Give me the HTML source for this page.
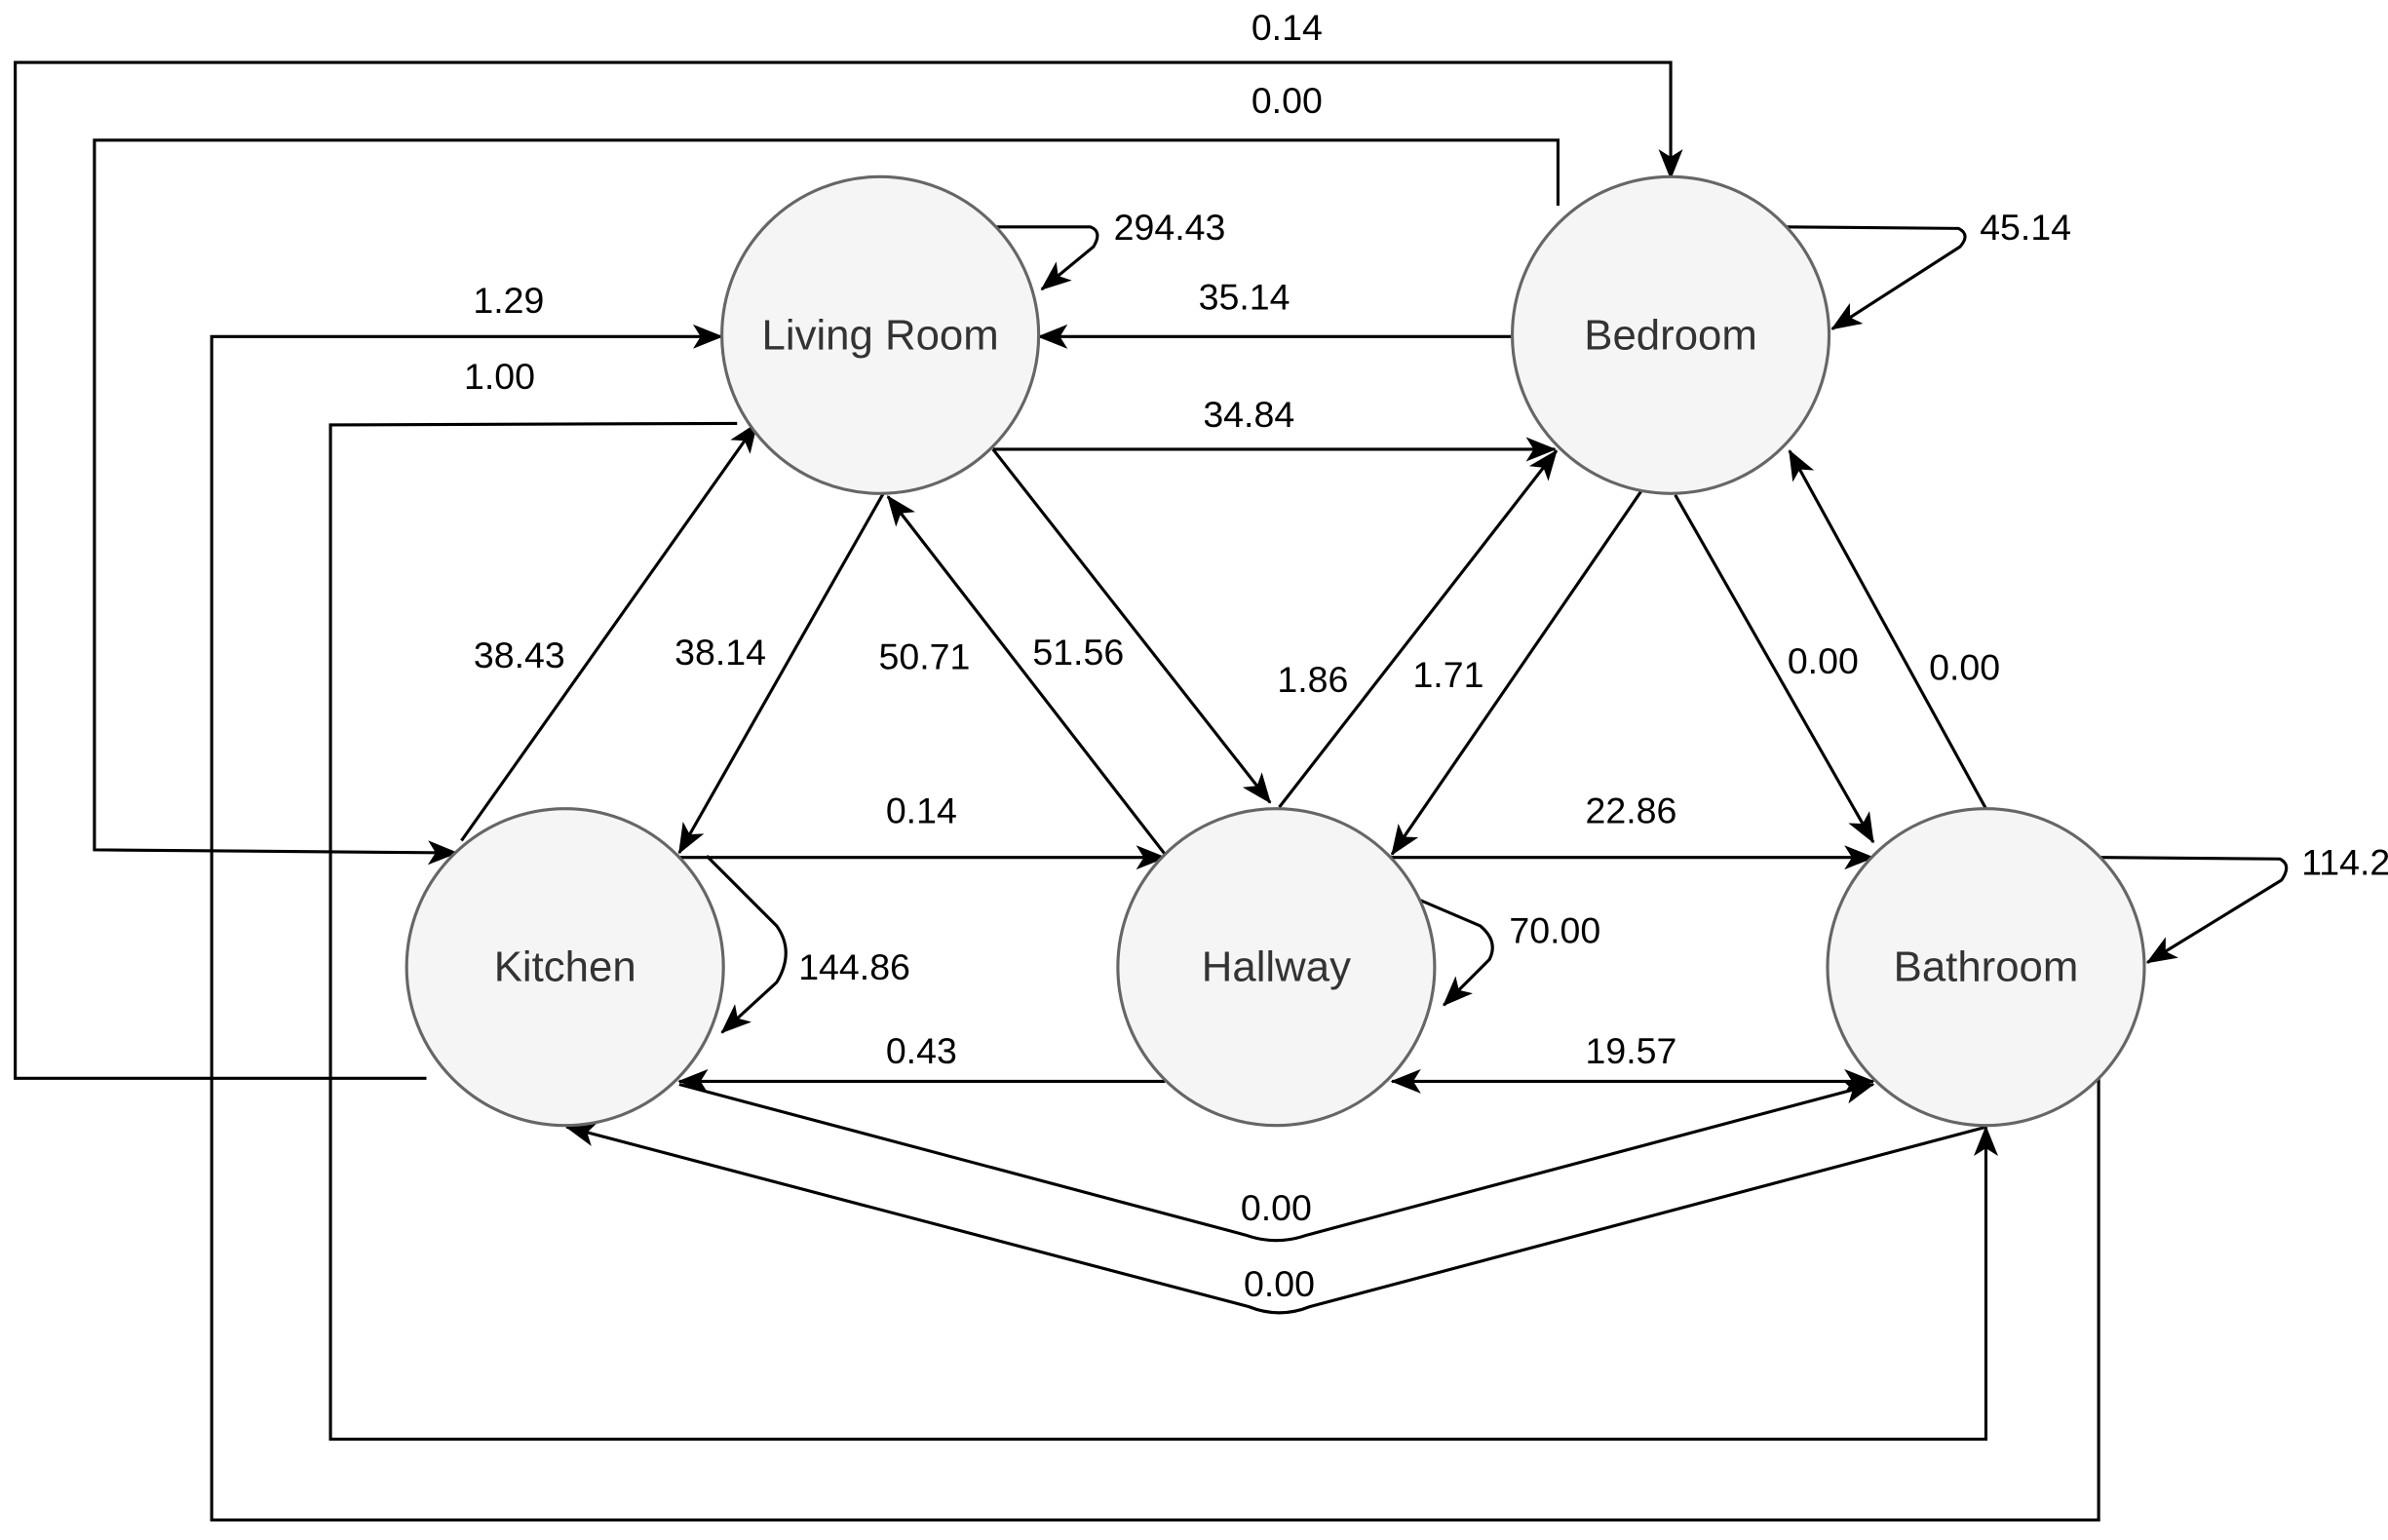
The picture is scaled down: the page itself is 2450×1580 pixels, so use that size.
<!DOCTYPE html>
<html><head><meta charset="utf-8"><style>html,body{margin:0;padding:0;background:#fff}svg{display:block}</style></head><body>
<svg width="2450" height="1580" viewBox="0 0 1568 1011.2" xmlns="http://www.w3.org/2000/svg">
<defs>
<marker id="a" viewBox="0 0 20 16" refX="19" refY="8" markerWidth="20" markerHeight="16" markerUnits="userSpaceOnUse" orient="auto">
<path d="M0,0 L20,8 L0,16 L5,8 Z" fill="#000"/>
</marker>
<marker id="s" viewBox="0 0 20 16" refX="1" refY="8" markerWidth="20" markerHeight="16" markerUnits="userSpaceOnUse" orient="auto">
<path d="M20,0 L0,8 L20,16 L15,8 Z" fill="#000"/>
</marker>
</defs>
<g fill="none" stroke="#000" stroke-width="2">
<path d="M280,708 L10,708 L10,41 L1097,41 L1097,117" marker-end="url(#a)"/>
<path d="M1023,135 L1023,92 L62,92 L62,558 L300,560" marker-end="url(#a)"/>
<path d="M1378,708 L1378,998 L139,998 L139,221 L474,221" marker-end="url(#a)"/>
<path d="M484,278 L217,279 L217,945 L1304,945 L1304,740" marker-end="url(#a)"/>
<path d="M652,149 L716,149 Q724,152 718,162 L684,190" marker-end="url(#a)"/>
<path d="M993,221 L682,221" marker-end="url(#a)"/>
<path d="M652,295 L1021,295" marker-end="url(#a)"/>
<path d="M1172,149 L1286,150 Q1294,154 1287,162 L1203,216" marker-end="url(#a)"/>
<path d="M303,552 L497,278" marker-end="url(#a)"/>
<path d="M580,324 L446,560" marker-end="url(#a)"/>
<path d="M765,561 L583,326" marker-end="url(#a)"/>
<path d="M652,295 L834,527" marker-end="url(#a)"/>
<path d="M840,530 L1022,296" marker-end="url(#a)"/>
<path d="M1078,322 L914,561" marker-end="url(#a)"/>
<path d="M1100,325 L1230,553" marker-end="url(#a)"/>
<path d="M1304,531 L1175,296" marker-end="url(#a)"/>
<path d="M446,563 L765,563" marker-end="url(#a)"/>
<path d="M912,563 L1230,563" marker-end="url(#a)"/>
<path d="M1378,563 L1497,564 Q1505,568 1498,578 L1410,632" marker-end="url(#a)"/>
<path d="M464,562 L510,608 Q522,625 510,645 L474,678" marker-end="url(#a)"/>
<path d="M930,590 L972,608 Q984,618 978,630 L948,660" marker-end="url(#a)"/>
<path d="M765,710 L446,710" marker-end="url(#a)"/>
<path d="M914,710 L1230,710" marker-start="url(#s)" marker-end="url(#a)"/>
<path d="M446,712 L818,811 Q838,818 858,811 L1230,712" marker-end="url(#a)"/>
<path d="M1304,740 L860,858 Q840,866 820,858 L372,740" marker-end="url(#a)"/>
</g>
<g fill="#f5f5f5" stroke="#666" stroke-width="2">
<circle cx="578" cy="220" r="104"/>
<circle cx="1097" cy="220" r="104"/>
<circle cx="371" cy="635" r="104"/>
<circle cx="838" cy="635" r="104"/>
<circle cx="1304" cy="635" r="104"/>
</g>
<g font-family="Liberation Sans, Arial, sans-serif" font-size="28" fill="#333" text-anchor="middle" dominant-baseline="central">
<text x="578" y="220">Living Room</text>
<text x="1097" y="220">Bedroom</text>
<text x="371" y="635">Kitchen</text>
<text x="838" y="635">Hallway</text>
<text x="1304" y="635">Bathroom</text>
</g>
<g font-family="Liberation Sans, Arial, sans-serif" font-size="24" fill="#000" text-anchor="middle" dominant-baseline="central">
<text x="845" y="18">0.14</text>
<text x="845" y="66">0.00</text>
<text x="334" y="197">1.29</text>
<text x="328" y="247">1.00</text>
<text x="768" y="149">294.43</text>
<text x="817" y="195">35.14</text>
<text x="820" y="272">34.84</text>
<text x="1330" y="149">45.14</text>
<text x="341" y="430">38.43</text>
<text x="473" y="428">38.14</text>
<text x="607" y="431">50.71</text>
<text x="708" y="428">51.56</text>
<text x="862" y="446">1.86</text>
<text x="951" y="443">1.71</text>
<text x="1197" y="434">0.00</text>
<text x="1290" y="438">0.00</text>
<text x="605" y="532">0.14</text>
<text x="1071" y="532">22.86</text>
<text x="1547" y="566">114.29</text>
<text x="561" y="635">144.86</text>
<text x="1021" y="611">70.00</text>
<text x="605" y="690">0.43</text>
<text x="1071" y="690">19.57</text>
<text x="838" y="793">0.00</text>
<text x="840" y="843">0.00</text>
</g>
</svg>
</body></html>
